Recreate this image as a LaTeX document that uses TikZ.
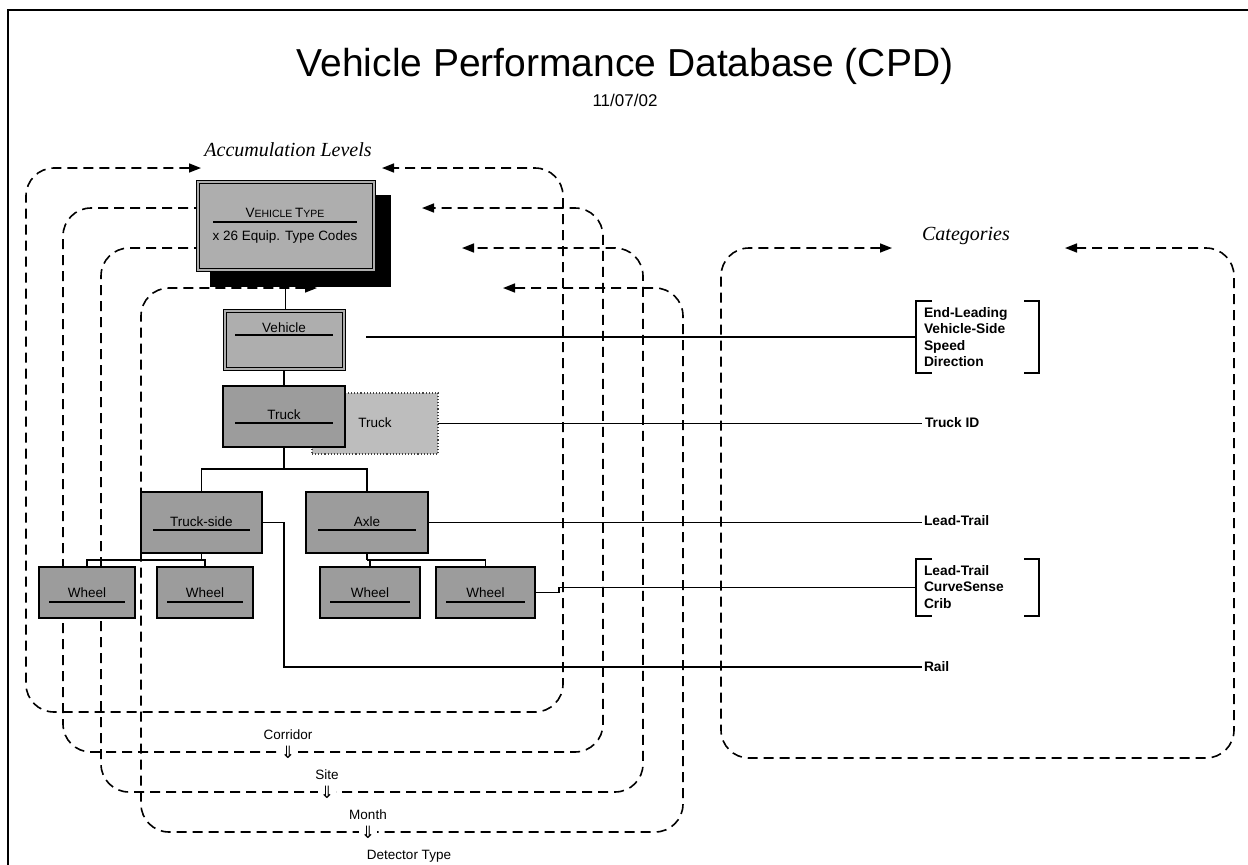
\documentclass[tikz,border=0pt]{standalone}
\usepackage{fontspec}
\setmainfont{Liberation Sans}
\newfontfamily\timesfont{Liberation Serif}
\newfontfamily\symfont{DejaVu Sans}
\usetikzlibrary{arrows.meta,calc}

\definecolor{boxfill}{HTML}{9C9C9C}
\definecolor{typefill}{HTML}{AEAEAE}
\definecolor{ghostfill}{HTML}{BDBDBD}

\newcommand\capbig[1]{{\fontsize{13.5}{15}\selectfont #1}}
\newcommand\capsmall[1]{{\fontsize{10.5}{15}\selectfont #1}}

\begin{document}
\begin{tikzpicture}[x=1pt,y=-1pt,
  every node/.style={inner sep=0pt,outer sep=0pt},
  level/.style={line width=1.6pt,dash pattern=on 10pt off 6pt,rounded corners=28pt},
  both tips/.style={{Triangle[length=12pt,width=9pt]}-{Triangle[length=12pt,width=9pt]}},
  end tip/.style={-{Triangle[length=12pt,width=9pt]}},
  unitbox/.style={draw=black,line width=1.5pt,fill=boxfill,anchor=north west},
  unitname/.style={font=\fontsize{13.5}{15}\selectfont},
  rule/.style={line width=1.2pt},
  link/.style={line width=1.4pt},
  catlabel/.style={anchor=west,align=left,font=\fontsize{13.8}{16.2}\selectfont\bfseries},
  heading/.style={font=\timesfont\itshape\fontsize{20}{22}\selectfont},
  levelname/.style={font=\fontsize{13.5}{15}\selectfont},
  downmark/.style={font=\symfont\fontsize{17}{17}\selectfont,fill=white,inner xsep=2pt,inner ysep=0pt},
  bracket/.style={line width=1.2pt}
]
\useasboundingbox (0,0) rectangle (1248,865);

% page frame
\draw[line width=1.3pt] (8,865) -- (8,10) -- (1248,10);

% title
\node (title) at (625,66) {\fontsize{39}{44}\selectfont Vehicle Performance Database (CPD)};
\node (date) at (625,100) {\fontsize{17}{20}\selectfont 11/07/02};

% accumulation levels (nested dashed loops)
\node[heading] (acc) at (288,150) {Accumulation Levels};
\draw[level,both tips] (201,168) -- (26,168) -- (26,712) -- (563,712) -- (563,168) -- (382,168);
\draw[level,end tip] (220,208) -- (63,208) -- (63,752) -- (603,752) -- (603,208) -- (422,208);
\draw[level,end tip] (220,248) -- (101,248) -- (101,792) -- (643,792) -- (643,248) -- (462,248);
\draw[level,both tips] (317,288) -- (141,288) -- (141,832) -- (683,832) -- (683,288) -- (503,288);

\node[levelname] (corridor) at (288,735) {Corridor};
\node[downmark] (corridor-arrow) at (288,752) {⇓};
\node[levelname] (site) at (327,775) {Site};
\node[downmark] (site-arrow) at (327,792) {⇓};
\node[levelname] (month) at (368,815) {Month};
\node[downmark] (month-arrow) at (368,832) {⇓};
\node[levelname] (detector) at (409,856) {Detector Type};

% categories loop
\node[heading] (cats) at (966,236) {Categories};
\draw[level,both tips] (892,248) -- (721,248) -- (721,758) -- (1234,758) -- (1234,248) -- (1065,248);

% vehicle type box with drop shadow
\fill[black] (210,195) rectangle (391,287);
\node[unitbox,line width=1pt,fill=typefill,minimum width=179pt,minimum height=91pt] (vtype) at (196,180) {};
\draw[line width=1pt] ($(vtype.north west)+(3,3)$) rectangle ($(vtype.south east)+(-3,-3)$);
\node (vtype-name) at (285,213) {\capbig{V}\capsmall{EHICLE} \capbig{T}\capsmall{YPE}};
\draw[rule] (213,222) -- (357,222);
\node[unitname] (vtype-codes) at (285,237) {x 26 Equip. Type Codes};

% vehicle
\node[unitbox,line width=1pt,fill=typefill,minimum width=122pt,minimum height=61pt] (veh) at (223,309) {};
\draw[line width=1pt] ($(veh.north west)+(3,3)$) rectangle ($(veh.south east)+(-3,-3)$);
\node[unitname] (veh-name) at ($(veh.north)+(0,19)$) {Vehicle};
\draw[rule] ($(veh.north west)+(12,26)$) -- ($(veh.north east)+(-12,26)$);

% truck and its dotted companion
\node[unitbox,draw=black!75,line width=1.1pt,dotted,fill=ghostfill,minimum width=126pt,minimum height=61pt] (ghost) at (312,393) {};
\node[unitname] (ghost-name) at (375,423) {Truck};
\node[unitbox,minimum width=122pt,minimum height=61pt] (truck) at (223,386) {};
\node[unitname] (truck-name) at ($(truck.north)+(0,29)$) {Truck};
\draw[rule] ($(truck.north west)+(12,37)$) -- ($(truck.north east)+(-12,37)$);

% truck-side and axle
\node[unitbox,minimum width=121pt,minimum height=61pt] (tside) at (141,492) {};
\node[unitname] (tside-name) at ($(tside.north)+(0,30)$) {Truck-side};
\draw[rule] ($(tside.north west)+(12,38)$) -- ($(tside.north east)+(-12,38)$);
\node[unitbox,minimum width=122pt,minimum height=61pt] (axle) at (306,492) {};
\node[unitname] (axle-name) at ($(axle.north)+(0,30)$) {Axle};
\draw[rule] ($(axle.north west)+(12,38)$) -- ($(axle.north east)+(-12,38)$);

% wheels
\foreach \n/\x/\w in {w1/39/96,w2/157/96,w3/320/100,w4/436/99}{
  \node[unitbox,minimum width=\w pt,minimum height=51pt] (\n) at (\x,567) {};
  \node[unitname] (\n-name) at ($(\n.north)+(0,26)$) {Wheel};
  \draw[rule] ($(\n.north west)+(10,35)$) -- ($(\n.north east)+(-10,35)$);
}

% hierarchy connectors
\draw[link] (vtype.south) -- (vtype.south |- veh.north);
\draw[link] (veh.south) -- (veh.south |- truck.north);
\draw[link] (truck.south) -- ++(0,22);
\draw[link] (tside.north) |- ($(truck.south)+(0,22)$) -| (axle.north);
\draw[link] (tside.south) -- ++(0,7);
\draw[link] (w1.north) |- ($(tside.south)+(0,7)$) -| (w2.north);
\draw[link] (axle.south) -- ++(0,7);
\draw[link] (w3.north) |- ($(axle.south)+(0,7)$) -| (w4.north);

% category labels
\node[minimum width=123pt,minimum height=72pt] (brk1) at (977.5,337) {};
\node[catlabel] (cat-veh) at (924,337) {End-Leading\\Vehicle-Side\\Speed\\Direction};
\node[catlabel] (cat-truck) at (925,423) {Truck ID};
\node[catlabel] (cat-axle) at (924,521) {Lead-Trail};
\node[minimum width=123pt,minimum height=57pt] (brk2) at (977.5,587.5) {};
\node[catlabel] (cat-wheel) at (924,587) {Lead-Trail\\CurveSense\\Crib};
\node[catlabel] (cat-rail) at (924,667) {Rail};

\foreach \b in {brk1,brk2}{
  \draw[bracket] ($(\b.north west)+(16,0)$) -- (\b.north west) -- (\b.south west) -- ++(16,0);
  \draw[bracket] ($(\b.north east)+(-15,0)$) -- (\b.north east) -- (\b.south east) -- ++(-15,0);
}

% category connectors
\coordinate (veh-out) at (366,337);
\draw[link] (veh-out) -- (brk1.west);
\draw[link,shorten >=3pt] (ghost.east) -- (ghost.east -| cat-truck.west);
\draw[link,shorten >=2pt] (axle.east) -- (axle.east -| cat-axle.west);
\draw[link] (w4.east) -- ++(24,0) |- (brk2.west);
\draw[link,shorten >=2pt] (tside.east) -- ++(22,0) |- (cat-rail.west);
\end{tikzpicture}
\end{document}
